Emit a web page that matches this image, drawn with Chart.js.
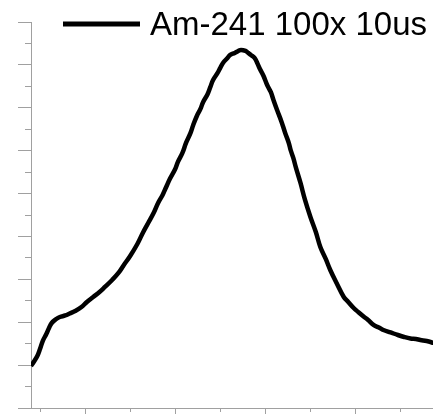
<!DOCTYPE html>
<html><head><meta charset="utf-8">
<script src="https://cdn.jsdelivr.net/npm/chart.js@4"></script>
<style>html,body{margin:0;padding:0;background:#fff;overflow:hidden}</style>
</head><body>
<canvas id="c" width="433" height="419" style="display:block;width:433px;height:419px"></canvas>
<script>
const seriesLabel = 'Am-241 100x 10us';
const channels = [40,43,47,50,53,57,60,63,68,72,78,83,89,96,102,109,116,122,130,137,143,150,158,164,170,176,181,186,190,194,200,203,208,212,217,220,224,228,231,236,239,242,247,250,253,258,261,266,270,273,278,281,284,288,291,294,298,302,306,309,313,318,322,326,328,331,334,339,344,350,356,361,367,372,379,387,392,398,403,409,414,420,426,431,439,447,454,461,467,472,479,487];
const counts = [979,1073,1213,1376,1562,1726,1866,1982,2075,2122,2157,2204,2262,2355,2472,2589,2705,2822,2985,3148,3335,3545,3824,4081,4314,4547,4781,4967,5154,5340,5573,5737,5947,6180,6413,6600,6809,6973,7136,7322,7486,7649,7812,7929,8045,8162,8232,8279,8325,8349,8325,8279,8232,8162,8045,7905,7742,7532,7369,7183,6949,6670,6413,6180,6017,5830,5597,5247,4851,4454,4104,3755,3475,3218,2915,2589,2472,2332,2239,2134,2052,1936,1877,1819,1761,1702,1656,1621,1609,1586,1562,1516];
const xMajorTicks = [100,200,300,400];
const xMinorTicks = [50,150,250,350,450];
const yMajorTicks = [0,1000,2000,3000,4000,5000,6000,7000,8000,9000];
const yMinorTicks = [500,1500,2500,3500,4500,5500,6500,7500,8500];

const axisGrey = '#a0a0a0';

const legendPlugin = {
  id: 'insideLegend',
  afterDraw(chart) {
    const ctx = chart.ctx;
    const label = chart.data.datasets[0].label;
    ctx.save();
    ctx.strokeStyle = '#000';
    ctx.lineWidth = 5;
    ctx.lineCap = 'butt';
    ctx.beginPath();
    ctx.moveTo(63, 24);
    ctx.lineTo(140, 24);
    ctx.stroke();
    ctx.fillStyle = '#000';
    ctx.font = '33px "Liberation Sans", Arial, sans-serif';
    ctx.textBaseline = 'alphabetic';
    ctx.textAlign = 'left';
    ctx.fillText(label, 150, 35);
    ctx.restore();
  }
};

new Chart(document.getElementById('c'), {
  type: 'line',
  data: {
    datasets: [{
      label: seriesLabel,
      data: channels.map((x, i) => ({x: x, y: counts[i]})),
      borderColor: '#000',
      borderWidth: 4.5,
      borderJoinStyle: 'round',
      pointRadius: 0,
      fill: false,
      tension: 0.4
    }]
  },
  options: {
    responsive: false,
    devicePixelRatio: 1,
    animation: false,
    layout: {padding: {left: 18, top: 22, right: 0, bottom: 5}},
    plugins: {legend: {display: false}, tooltip: {enabled: false}},
    scales: {
      x: {
        type: 'linear', min: 40, max: 486,
        afterBuildTicks: (s) => { s.ticks = xMajorTicks.concat(xMinorTicks).sort((a,b)=>a-b).map(v => ({value: v})); },
        ticks: {display: false},
        border: {display: true, color: axisGrey, width: 1},
        grid: {
          drawOnChartArea: false, drawTicks: true, tickLength: 6,
          tickColor: axisGrey, tickWidth: 1,
          tickBorderDash: (c) => xMajorTicks.includes(c.tick.value) ? [] : [3, 100]
        }
      },
      y: {
        type: 'linear', min: 0, max: 9000,
        afterBuildTicks: (s) => { s.ticks = yMajorTicks.concat(yMinorTicks).sort((a,b)=>a-b).map(v => ({value: v})); },
        ticks: {display: false},
        border: {display: true, color: axisGrey, width: 1},
        grid: {
          drawOnChartArea: false, drawTicks: true, tickLength: 13,
          tickColor: axisGrey, tickWidth: 1,
          tickBorderDash: (c) => yMajorTicks.includes(c.tick.value) ? [] : [0, 7, 6, 100]
        }
      }
    }
  },
  plugins: [legendPlugin]
});
</script>
</body></html>
